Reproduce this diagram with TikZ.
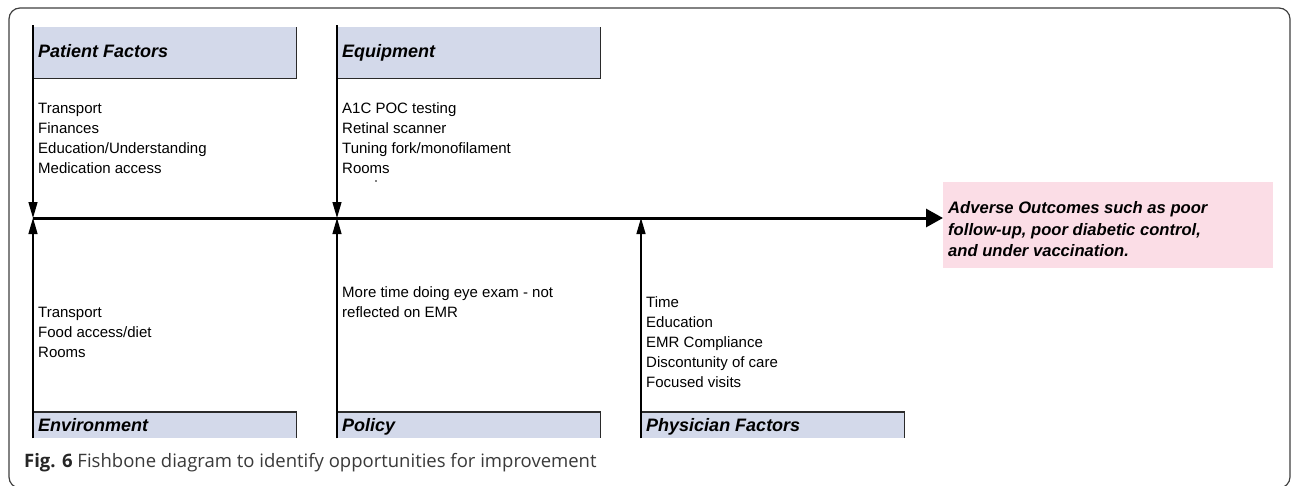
\documentclass[tikz,border=0pt]{standalone}
\usepackage{fontspec}
\setmainfont{Liberation Sans}
\newfontfamily\capfont{Open Sans}
\usetikzlibrary{arrows.meta}
\definecolor{boxblue}{HTML}{D3D9EA}
\definecolor{boxpink}{HTML}{FBDDE6}
\definecolor{edgegray}{HTML}{2A2A2A}
\definecolor{capgray}{HTML}{3A3A3A}
\tikzset{
  frame/.style={draw=black!75, line width=1.2pt, rounded corners=11pt},
  hbox/.style={fill=boxblue, draw=none, inner sep=0pt, anchor=north west, minimum width=263pt},
  boxedge/.style={draw=edgegray, line width=1.3pt},
  bone/.style={draw=black, line width=1.3pt, -{Triangle[length=16pt,width=9pt]}},
  spine/.style={draw=black, line width=3pt, -{Triangle[length=17pt,width=18pt]}},
  title/.style={anchor=base west, inner sep=0pt, font=\fontsize{18}{22}\selectfont\bfseries\itshape},
  item/.style={anchor=base west, inner sep=0pt, font=\fontsize{15}{20}\selectfont},
  outtext/.style={anchor=base west, inner sep=0pt, font=\fontsize{16.6}{21.7}\selectfont\bfseries\itshape},
  outbox/.style={fill=boxpink, draw=none, inner sep=0pt, anchor=north west, minimum width=330pt, minimum height=86pt}
}
\begin{document}
\begin{tikzpicture}[x=1pt,y=-1pt]
\useasboundingbox (0,0) rectangle (1292,485);
\fill[white] (0,0) rectangle (1292,485);
% outer frame
\draw[frame] (9,8) rectangle (1290,488);

% top boxes
\node[hbox, minimum height=51pt] (pfbox) at (33,27) {};
\node[hbox, minimum height=51pt] (eqbox) at (337,27) {};
\draw[boxedge] (pfbox.north east) -- (pfbox.south east) -- (pfbox.south west);
\draw[boxedge] (eqbox.north east) -- (eqbox.south east) -- (eqbox.south west);
\node[title] (pftitle) at (38,57) {Patient Factors};
\node[title] (eqtitle) at (342,57) {Equipment};

% bottom boxes
\node[hbox, minimum height=26pt] (envbox) at (33,412) {};
\node[hbox, minimum height=26pt] (polbox) at (337,412) {};
\node[hbox, minimum height=26pt] (phybox) at (641,412) {};
\draw[boxedge] (envbox.north west) -- (envbox.north east) -- (envbox.south east);
\draw[boxedge] (polbox.north west) -- (polbox.north east) -- (polbox.south east);
\draw[boxedge] (phybox.north west) -- (phybox.north east) -- (phybox.south east);
\node[title] (envtitle) at (38,431) {Environment};
\node[title] (poltitle) at (342,431) {Policy};
\node[title] (phytitle) at (646,431) {Physician Factors};

% junctions on the spine
\coordinate (pfj) at (33,218);
\coordinate (eqj) at (337,218);
\coordinate (phj) at (641,218);
\coordinate (pftop) at (33,25);
\coordinate (eqtop) at (337,25);

% outcome box
\node[outbox] (outcome) at (943,182) {};
\coordinate (tip) at (943,218);

% spine
\draw[spine] (pfj) -- (tip);

% bones
\draw[bone] (pftop) -- (pfj);
\draw[bone] (eqtop) -- (eqj);
\draw[bone] (envbox.south west) -- (pfj);
\draw[bone] (polbox.south west) -- (eqj);
\draw[bone] (phybox.south west) -- (phj);

% items
\foreach \t [count=\i] in {Transport, Finances, Education/Understanding, Medication access}
  \node[item] (pfi\i) at (38,93+20*\i) {\t};
\foreach \t [count=\i] in {A1C POC testing, Retinal scanner, Tuning fork/monofilament, Rooms}
  \node[item] (eqi\i) at (342,93+20*\i) {\t};
\fill (376,181) circle (0.9pt);
\foreach \t [count=\i] in {Transport, Food access/diet, Rooms}
  \node[item] (envi\i) at (38,297+20*\i) {\t};
\foreach \t [count=\i] in {More time doing eye exam - not, reflected on EMR}
  \node[item] (poli\i) at (342,277+20*\i) {\t};
\foreach \t [count=\i] in {Time, Education, EMR Compliance, Discontunity of care, Focused visits}
  \node[item] (phyi\i) at (646,287+20*\i) {\t};

% outcome text
\node[outtext] (out1) at (948,213) {Adverse Outcomes such as poor};
\node[outtext] (out2) at (948,235) {follow-up, poor diabetic control,};
\node[outtext] (out3) at (948,256) {and under vaccination.};

% caption
\node[anchor=base west, inner sep=0pt, font=\capfont\fontsize{18.5}{22}\selectfont, text=capgray] (caption) at (24,467)
  {\textbf{\color{black!85}Fig. 6} Fishbone diagram to identify opportunities for improvement};
\end{tikzpicture}
\end{document}
